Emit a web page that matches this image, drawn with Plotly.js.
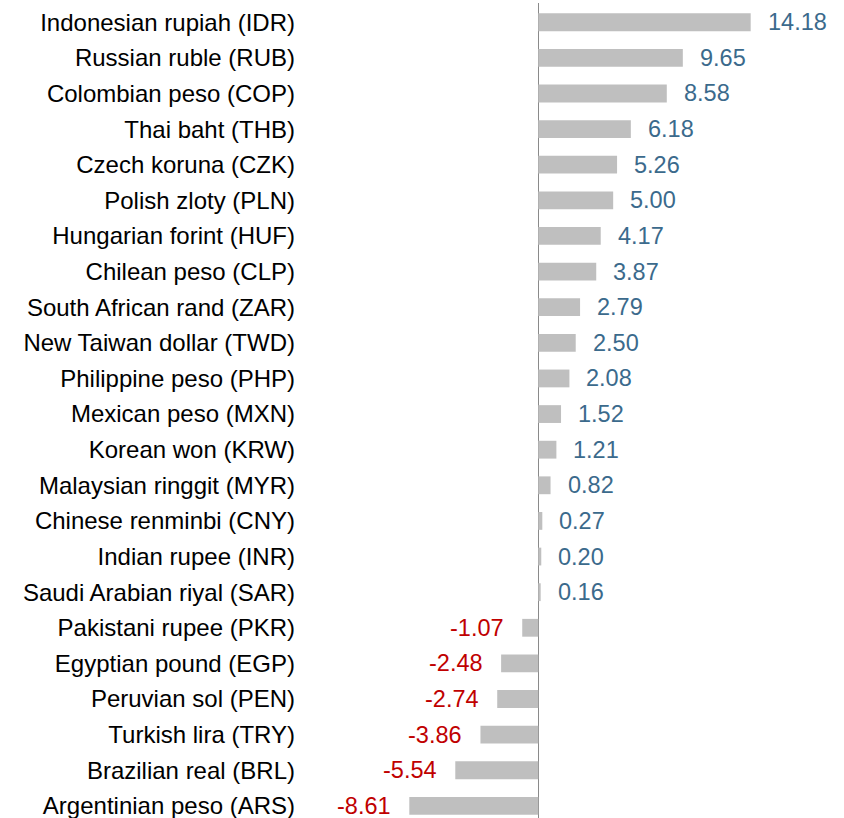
<!DOCTYPE html>
<html>
<head>
<meta charset="utf-8">
<script src="https://cdn.plot.ly/plotly-3.0.1.min.js"></script>
<style>html,body{margin:0;padding:0;background:#fff;}#chart{width:844px;height:818px;}</style>
</head>
<body>
<div id="chart"></div>
<script>
const currencies = [
  "Indonesian rupiah (IDR)", "Russian ruble (RUB)", "Colombian peso (COP)", "Thai baht (THB)",
  "Czech koruna (CZK)", "Polish zloty (PLN)", "Hungarian forint (HUF)", "Chilean peso (CLP)",
  "South African rand (ZAR)", "New Taiwan dollar (TWD)", "Philippine peso (PHP)", "Mexican peso (MXN)",
  "Korean won (KRW)", "Malaysian ringgit (MYR)", "Chinese renminbi (CNY)", "Indian rupee (INR)",
  "Saudi Arabian riyal (SAR)", "Pakistani rupee (PKR)", "Egyptian pound (EGP)", "Peruvian sol (PEN)",
  "Turkish lira (TRY)", "Brazilian real (BRL)", "Argentinian peso (ARS)"
];
const changes = [14.18, 9.65, 8.58, 6.18, 5.26, 5.00, 4.17, 3.87, 2.79, 2.50, 2.08, 1.52,
  1.21, 0.82, 0.27, 0.20, 0.16, -1.07, -2.48, -2.74, -3.86, -5.54, -8.61];

const FONT = "Arial, 'Liberation Sans', sans-serif";
const blue = "#3b6a8c", red = "#c00000";

const annotations = currencies.map((c, i) => {
  const v = changes[i];
  const pos = v >= 0;
  return {
    x: v, y: c, xref: "x", yref: "y",
    text: v.toFixed(2), showarrow: false,
    xanchor: pos ? "left" : "right",
    xshift: pos ? 15 : -16,
    font: {family: FONT, size: 23.5, color: pos ? blue : red}
  };
});

const trace = {
  type: "bar", orientation: "h",
  x: changes, y: currencies,
  marker: {color: "#bfbfbf"},
  width: 0.5,
  hoverinfo: "skip"
};

const layout = {
  width: 844, height: 818,
  margin: {l: 298, r: 0, t: 3, b: 0},
  paper_bgcolor: "#fff", plot_bgcolor: "#fff",
  showlegend: false,
  xaxis: {
    range: [-16.04, 20.41],
    showgrid: false, showticklabels: false, ticks: "",
    zeroline: true, zerolinecolor: "#8a8a8a", zerolinewidth: 1.5,
    showline: false, fixedrange: true
  },
  yaxis: {
    type: "category",
    categoryorder: "array", categoryarray: currencies,
    range: [22.34, -0.54],
    showgrid: false, zeroline: false, showline: false, ticks: "",
    tickfont: {family: FONT, size: 24, color: "#000"},
    ticklabelstandoff: 2,
    fixedrange: true
  },
  annotations: annotations
};

Plotly.newPlot("chart", [trace], layout, {displayModeBar: false, staticPlot: true});
</script>
</body>
</html>
